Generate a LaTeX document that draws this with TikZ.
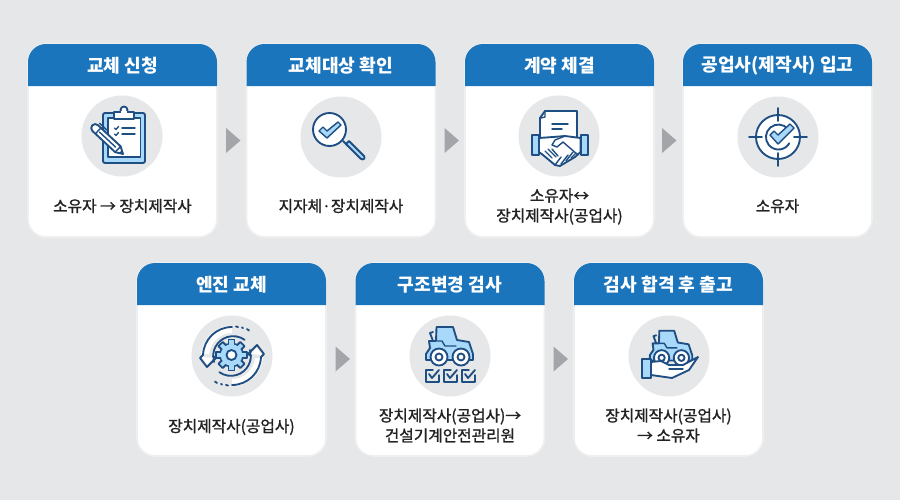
\documentclass[tikz,border=0pt]{standalone}
\usepackage{fontspec}
\newfontfamily\krfont{Noto Sans CJK KR}
\newfontfamily\krbody{Noto Sans CJK KR}[FakeBold=1.2]
\definecolor{pagebg}{HTML}{E6E7E9}
\definecolor{headblue}{HTML}{1B75BC}
\definecolor{navy}{HTML}{1F4E82}
\definecolor{lb}{HTML}{A8D8FA}
\definecolor{disc}{HTML}{E6E7E9}
\definecolor{tri}{HTML}{A3A5A8}
\definecolor{cardedge}{HTML}{EFEFF0}
\definecolor{txt}{HTML}{222222}
\tikzset{
  x=0.75pt,y=-0.75pt,
  cardbox/.style={fill=white,draw=cardedge,line width=1.2pt,rounded corners=13.5pt,minimum width=141.75pt,minimum height=144.75pt,inner sep=0pt},
  headtext/.style={text=white,font=\krfont\bfseries\fontsize{13.6}{15}\selectfont,inner sep=0pt},
  bodytext/.style={text=txt,align=center,font=\krbody\fontsize{11.8}{15}\selectfont,inner sep=0pt},
  ln/.style={draw=navy,line width=1.4pt,line join=round,line cap=round},
  thin/.style={draw=navy,line width=1.05pt,line join=round,line cap=round},
}
% name, centre x, top y, header, body text, text centre y
\newcommand{\cardat}[6]{%
  \pgfmathsetmacro{\cxa}{#2-94.5}\pgfmathsetmacro{\cxb}{#2+94.5}
  \pgfmathsetmacro{\cxc}{#2+76.5}
  \pgfmathsetmacro{\cyb}{#3+42}\pgfmathsetmacro{\cyc}{#3+96.5}\pgfmathsetmacro{\cyd}{#3+18}
  \node[cardbox] (#1) at (#2,\cyc) {};
  \fill[headblue] (\cxa,\cyb) -- (\cxa,\cyd) arc (180:270:18) -- (\cxc,#3) arc (270:360:18) -- (\cxb,\cyb) -- cycle;
  \node[headtext] (#1h) at (#2,#3+21.5) {#4};
  \node[bodytext] (#1t) at (#2,#6) {#5};
}
\newcommand{\disc}[2]{\fill[disc] (#1,#2) circle (40.5);}
\newcommand{\arrowat}[2]{\fill[tri] (#1,#2-12.5) -- (#1+14.5,#2) -- (#1,#2+12.5) -- cycle;}
\newcommand{\tractor}{%
  \draw[ln] (-17,-14) -- (-20,-22) -- (-17,-23);
  \draw[ln,fill=lb] (-20,-7) -- (-21,-14) -- (-14,-14) -- (-13.5,-28) -- (3,-28) -- (7,-15) -- (19,-13) -- (23,-1) -- (23,5) -- (-24,5) -- (-24,-1) -- cycle;
  \draw[thin] (-13,-14) -- (-8,-14) -- (-5,-9) -- (6,-9);
  \draw[ln,fill=white] (-11,2) circle (8.5);
  \draw[ln,fill=white] (11,2) circle (8.5);
  \draw[ln,fill=white] (-11,2) circle (3.5);
  \draw[ln,fill=white] (11,2) circle (3.5);
}
\newcommand{\chk}[2]{\draw[thin] (#1+7,#2) -- (#1,#2) -- (#1,#2+12) -- (#1+13,#2+12) -- (#1+13,#2+5);
  \draw[ln] (#1+3,#2+4) -- (#1+6,#2+8) -- (#1+13,#2);}
\begin{document}
\begin{tikzpicture}
\useasboundingbox (0,0) rectangle (900,500);
\fill[pagebg] (0,0) rectangle (900,500);

\cardat{c1}{122.5}{44}{교체 신청}{소유자 → 장치제작사}{206}
\cardat{c2}{341}{44}{교체대상 확인}{지자체·장치제작사}{206}
\cardat{c3}{559.5}{44}{계약 체결}{소유자↔\\장치제작사(공업사)}{206.5}
\cardat{c4}{777.5}{44}{공업사(제작사) 입고}{소유자}{206}
\cardat{c5}{231.5}{263}{엔진 교체}{장치제작사(공업사)}{427}
\cardat{c6}{450}{263}{구조변경 검사}{장치제작사(공업사)→\\건설기계안전관리원}{425.5}
\cardat{c7}{668.5}{263}{검사 합격 후 출고}{장치제작사(공업사)\\→ 소유자}{425.5}

\arrowat{226}{140.5}\arrowat{444.5}{140.5}\arrowat{662}{140.5}
\arrowat{335.5}{359}\arrowat{553.5}{359}

\disc{122}{136}\disc{341}{137}\disc{559}{136}\disc{778}{137}
\disc{232}{356}\disc{450}{356}\disc{669}{356}

% --- clipboard
\begin{scope}[shift={(122,136)}]
  \draw[ln,fill=lb,rounded corners=1.5pt] (-19,-23) rectangle (23,27);
  \draw[thin,fill=white] (-14,-18) rectangle (18.5,21);
  \draw[ln,fill=white] (2,-26) circle (3.5);
  \draw[ln,fill=white] (-8,-17) -- (-8,-24) -- (12,-24) -- (12,-17) -- cycle;
  \fill[white] (-1,-25) rectangle (5,-23);
  \draw[thin] (0,-8) -- (13,-8) (0,-2) -- (13,-2);
  \draw[thin] (-7.5,-8) -- (-6,-6.5) -- (-3.5,-9.5) (-7.5,-2) -- (-6,-0.5) -- (-3.5,-3.5);
  \begin{scope}[shift={(1,18)},rotate=137]
    \draw[ln,fill=white] (0,0) -- (7,-4) -- (38,-4) arc (-90:90:4) -- (7,4) -- cycle;
    \fill[navy] (0,0) -- (3.5,-2) -- (3.5,2) -- cycle;
    \draw[thin] (7,-4) -- (7,4) (34,-4) -- (34,4) (10,0) -- (32,0);
    \draw[thin] (28,6.5) -- (38,6.5);
  \end{scope}
\end{scope}

% --- magnifier
\begin{scope}[shift={(341,137)}]
  \draw[ln] (2,4) -- (7,9);
  \draw[ln,fill=lb] (5,7) -- (8,4) -- (23,19) arc (-45:135:2) -- (20,22) -- cycle;
  \draw[ln,fill=white] (-11.5,-7.5) circle (16.5);
  \draw[thin,fill=lb] (-22,-6) -- (-18,-10) -- (-14,-6) -- (-3,-15) -- (0,-12) -- (-14,1) -- cycle;
\end{scope}

% --- handshake
\begin{scope}[shift={(559,136)}]
  \draw[ln,fill=white] (-19,2) -- (-19,-18) -- (-14,-25) -- (18,-25) -- (18,2);
  \draw[thin] (-14,-25) -- (-14,-19) -- (-18,-18);
  \draw[thin] (-7,-12) -- (9,-12) (-7,-7) -- (3,-7);
  \draw[ln,fill=white] (-20,2) -- (-6,1) -- (6,0) -- (21.5,2) -- (21.5,16) -- (16,21) -- (1,30) -- (-4,29) -- (-16,19) -- (-20,16) -- cycle;
  \draw[thin] (6,0) -- (-4,4) -- (-7,9) -- (-2,11) -- (4,6) -- (19,19);
  \draw[thin] (-14,15) -- (-7,22) (-11,13) -- (-3,21) (-7,13) -- (-1,20);
  \draw[thin] (-4,29) -- (2,21) (2,28) -- (9,19) (7,25) -- (14,16) (12,22) -- (17,17);
  \draw[ln,fill=lb] (-27,-1) rectangle (-20,19);
  \draw[ln,fill=lb] (22,-1) rectangle (29,19);
\end{scope}

% --- target
\begin{scope}[shift={(778,137)}]
  \draw[ln,fill=white] (0,0) circle (22);
  \draw[ln] (0,-29) -- (0,-16) (0,16) -- (0,29) (-29,0) -- (-16,0) (16,0) -- (29,0);
  \draw[ln] (10,-8) arc (-40:-330:12.5);
  \draw[thin,fill=lb] (-8,-2) -- (-4,-6) -- (0,-2) -- (12,-13) -- (16,-9) -- (0,7) -- cycle;
\end{scope}

% --- gear with arrows
\begin{scope}[shift={(232,356)}]
  \fill[white] (0,0) ++(-90:23) arc (-90:-175:23) -- ++(-8,0) arc (-175:-90:31) -- cycle;
  \fill[white] (0,0) ++(90:23) arc (90:5:23) -- ++(8,0) arc (5:90:31) -- cycle;
  \draw[ln] (0,-29) arc (-90:-178:29);
  \draw[ln] (-18,6) arc (-197:-55:20) ;
  \draw[ln] (-29,-1) -- (-32,2) -- (-25,11) -- (-16,2) -- (-19,0);
  \fill[white] (-30,1) -- (-25,8.5) -- (-19,2) -- cycle;
  \draw[ln] (0,29) arc (90:2:29);
  \draw[ln] (18,-6) arc (-17:125:20);
  \draw[ln] (29,1) -- (32,-2) -- (25,-11) -- (16,-2) -- (19,0);
  \fill[white] (30,-1) -- (25,-8.5) -- (19,-2) -- cycle;
  \draw[ln] (4,-29.5) -- (6,-29) (10,-28.5) -- (11,-28) (15,-27) -- (17,-25.5);
  \draw[ln] (-4,29.5) -- (-6,29) (-10,28.5) -- (-11,28) (-15,27) -- (-17,25.5);
  \begin{scope}[shift={(-0.5,-1)}]
    \draw[ln] (0,0) circle (11.5);
    \foreach \a in {0,45,90,135}
      \draw[ln,fill=lb,rotate=\a] (-3,-15.5) rectangle (3,15.5);
    \fill[lb] (0,0) circle (10.8);
    \draw[ln,fill=white] (0,0) circle (5);
  \end{scope}
\end{scope}

% --- tractor + checks
\begin{scope}[shift={(450,356)}]
  \begin{scope}[shift={(0,-1)}]\tractor\end{scope}
  \chk{-24}{14}\chk{-6}{14}\chk{12}{14}
\end{scope}

% --- hand + tractor
\begin{scope}[shift={(669,356)}]
  \begin{scope}[shift={(2.5,0)},scale=0.9]\tractor\end{scope}
  \draw[ln,fill=white] (-18,6) -- (-8,5) -- (0,9) -- (14,9) -- (29,1) -- (20,14) -- (3,22) -- (-18,19) -- cycle;
  \draw[thin] (0,13) -- (14,13);
  \draw[ln,fill=lb] (-27,3) rectangle (-18,22);
\end{scope}
\end{tikzpicture}
\end{document}
